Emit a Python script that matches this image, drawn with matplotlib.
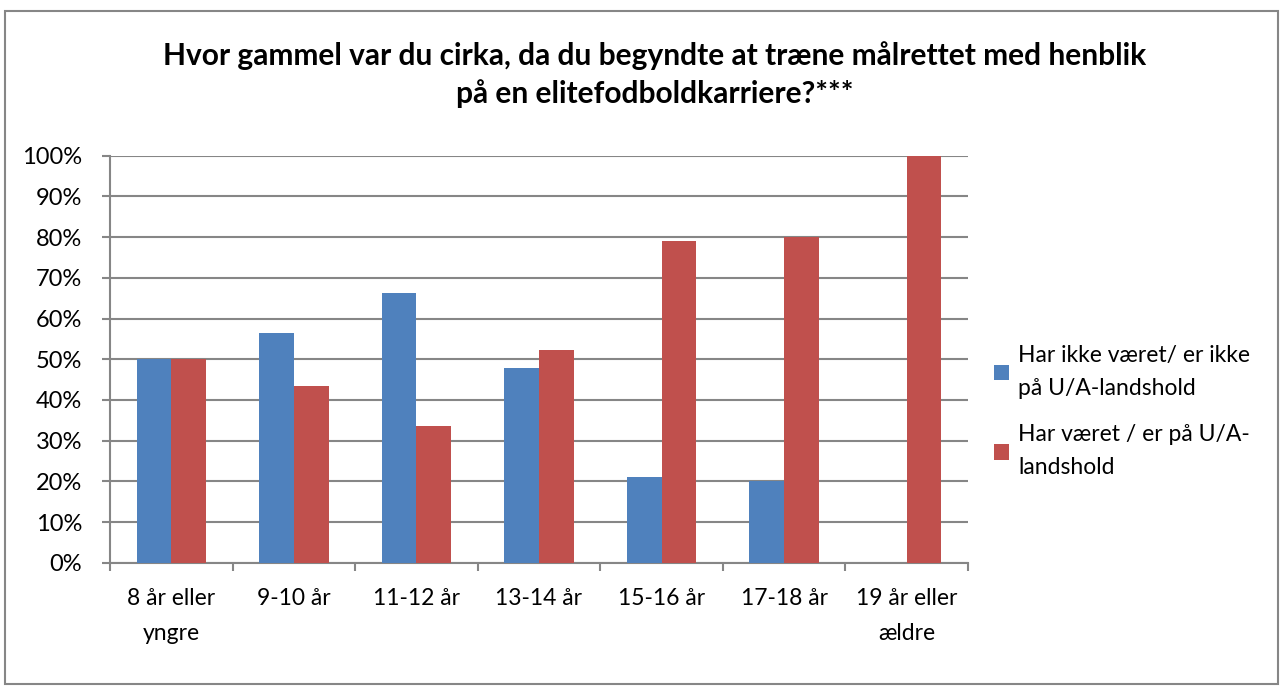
import matplotlib
matplotlib.use("Agg")
import matplotlib.pyplot as plt
import numpy as np
from matplotlib.patches import Rectangle

categories = ["8 år eller\nyngre", "9-10 år", "11-12 år", "13-14 år",
              "15-16 år", "17-18 år", "19 år eller\nældre"]
not_national = [50.0, 56.5, 66.3, 47.8, 21.0, 20.0, 0.0]
national = [50.0, 43.5, 33.7, 52.2, 79.0, 80.0, 100.0]
series_names = ["Har ikke været/ er ikke\npå U/A-landshold",
                "Har været / er på U/A-\nlandshold"]
title = ("Hvor gammel var du cirka, da du begyndte at træne målrettet med henblik\n"
         "på en elitefodboldkarriere?***")

BLUE = "#4F81BD"
RED = "#C0504D"
GRID = "#868686"
FONT = ["Lato", "DejaVu Sans"]

plt.rcParams["font.family"] = FONT

fig = plt.figure(figsize=(12.83, 6.88), dpi=100)
ax = fig.add_axes([0.0857, 0.1821, 0.6688, 0.5916])

x = np.arange(len(categories))
w = 0.283
ax.bar(x - w / 2, not_national, width=w, color=BLUE, label=series_names[0], zorder=3)
ax.bar(x + w / 2, national, width=w, color=RED, label=series_names[1], zorder=3)

ax.set_xlim(-0.5, len(categories) - 0.5)
ax.set_ylim(0, 100)
ax.set_yticks(np.arange(0, 101, 10))
ax.set_yticklabels([f"{v}%" for v in range(0, 101, 10)], fontsize=17)
ax.yaxis.grid(True, color=GRID, linewidth=1.5, zorder=0)
ax.set_axisbelow(True)

ax.set_xticks(x)
ax.set_xticklabels(categories, fontsize=16.5, linespacing=1.85)
ax.set_xticks(np.arange(-0.5, len(categories), 1), minor=True)
ax.tick_params(axis="x", which="major", length=0, pad=18)
ax.tick_params(axis="x", which="minor", length=6, width=1.5, color=GRID)
ax.tick_params(axis="y", length=6, width=1.5, color=GRID, pad=14)

for s in ["top", "right"]:
    ax.spines[s].set_visible(False)
for s in ["left", "bottom"]:
    ax.spines[s].set_color(GRID)
    ax.spines[s].set_linewidth(1.5)

fig.text(0.51, 0.892, title, ha="center", va="center", fontsize=21.5,
         fontweight="bold", linespacing=1.4)

leg = fig.legend(loc="upper left", bbox_to_anchor=(0.759, 0.528), frameon=False,
                 fontsize=16.5, handlelength=0.65, handleheight=0.65,
                 handletextpad=0.4, labelspacing=1.1)
for t in leg.get_texts():
    t.set_linespacing(1.7)

fig.patches.append(Rectangle((0.004, 0.006), 0.992, 0.978, transform=fig.transFigure,
                             fill=False, edgecolor=GRID, linewidth=1.5))

fig.savefig("out.png", dpi=100)
